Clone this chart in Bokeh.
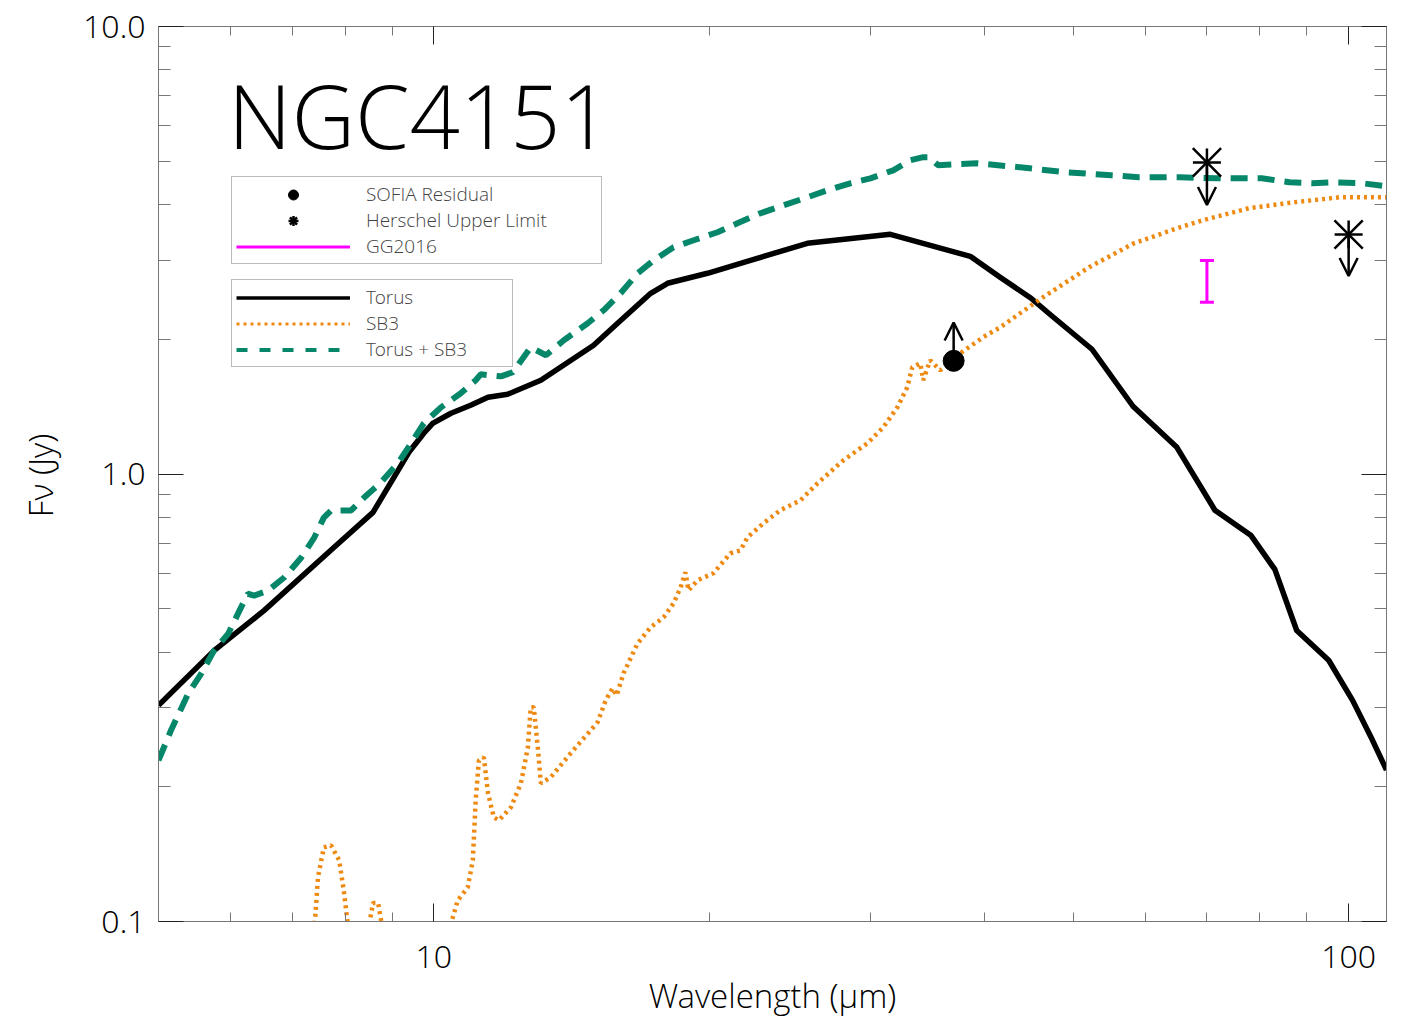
from bokeh.plotting import figure
from bokeh.models import (ColumnDataSource, FixedTicker, LogAxis, Legend, LegendItem, Label,
                          Arrow, OpenHead, PrintfTickFormatter, Range1d)
from bokeh.embed import file_html
from bokeh.resources import INLINE

# ---------------- data ----------------
torus_wave = [5.0, 5.75, 6.52, 7.78, 8.58, 9.39, 9.75, 9.97, 10.44, 10.97,
              11.46, 12.04, 13.09, 14.95, 15.88, 17.26, 18.01, 19.91, 22.19, 25.60,
              31.55, 38.58, 41.59, 44.96, 47.28, 52.41, 58.11, 64.90, 71.42, 78.16,
              83.05, 87.75, 95.1, 101.0, 106.2, 110.0]
torus_flux = [0.304, 0.403, 0.495, 0.686, 0.821, 1.118, 1.233, 1.298, 1.367, 1.424,
              1.484, 1.507, 1.620, 1.940, 2.172, 2.534, 2.668, 2.809, 3.002, 3.278,
              3.432, 3.065, 2.752, 2.470, 2.263, 1.900, 1.417, 1.147, 0.830, 0.730,
              0.612, 0.447, 0.3835, 0.312, 0.254, 0.218]

sb3_wave = [7.16, 7.40, 7.47, 7.58, 7.72, 7.88, 7.97, 8.07, 8.26, 8.47,
            8.58, 8.69, 8.80, 9.56, 10.38, 10.62, 10.89, 11.03, 11.11, 11.20,
            11.34, 11.46, 11.63, 11.78, 12.14, 12.45, 12.67, 12.76, 12.86, 12.99,
            13.09, 13.42, 14.11, 15.10, 15.41, 15.68, 15.84, 16.12, 16.70, 17.26,
            17.83, 18.28, 18.61, 18.84, 18.98, 19.42, 20.21, 21.09, 21.63, 22.02,
            22.92, 23.92, 25.16, 26.26, 28.03, 29.78, 31.00, 32.11, 32.92, 33.34,
            34.02, 34.27, 34.88, 35.77, 37.61, 39.85, 41.59, 43.74, 46.34, 52.02,
            58.25, 65.39, 69.27, 77.77, 87.10, 97.77, 110.0]
sb3_flux = [0.06, 0.095, 0.1255, 0.1464, 0.148, 0.137, 0.1174, 0.095, 0.07, 0.095,
            0.110, 0.110, 0.095, 0.06, 0.095, 0.1115, 0.1192, 0.137, 0.1866, 0.229,
            0.2327, 0.1934, 0.1709, 0.1683, 0.180, 0.2037, 0.245, 0.301, 0.301, 0.245,
            0.2037, 0.210, 0.2376, 0.2787, 0.312, 0.332, 0.320, 0.3586, 0.4184, 0.4545,
            0.4784, 0.514, 0.558, 0.603, 0.5495, 0.5787, 0.600, 0.665, 0.675, 0.722,
            0.776, 0.830, 0.873, 0.953, 1.073, 1.171, 1.272, 1.409, 1.562, 1.731,
            1.767, 1.620, 1.795, 1.705, 1.861, 2.021, 2.127, 2.287, 2.483, 2.897,
            3.278, 3.558, 3.690, 3.925, 4.048, 4.153, 4.153]

total_wave = [5.0, 5.16, 5.39, 5.57, 5.75, 5.96, 6.13, 6.26, 6.36, 6.59,
              6.86, 7.16, 7.40, 7.58, 7.72, 8.12, 8.39, 8.75, 9.13, 9.44,
              9.75, 10.18, 10.70, 11.11, 11.25, 11.84, 12.20, 12.76, 13.26, 13.87,
              14.73, 15.33, 16.00, 16.70, 17.39, 18.28, 19.23, 20.42, 21.47, 22.75,
              24.11, 25.60, 26.92, 28.52, 30.00, 31.78, 33.17, 34.19, 34.80, 35.59,
              37.24, 39.26, 43.74, 49.11, 54.99, 58.98, 65.39, 71.77, 80.35, 86.21,
              91.34, 96.78, 103.6, 110.0]
total_flux = [0.229, 0.2675, 0.3235, 0.3585, 0.403, 0.440, 0.495, 0.540, 0.535, 0.549,
              0.587, 0.650, 0.721, 0.799, 0.829, 0.829, 0.886, 0.957, 1.055, 1.170,
              1.298, 1.409, 1.515, 1.620, 1.670, 1.653, 1.688, 1.919, 1.842, 1.990,
              2.172, 2.322, 2.534, 2.809, 3.002, 3.211, 3.329, 3.469, 3.633, 3.825,
              3.985, 4.153, 4.305, 4.463, 4.579, 4.771, 5.023, 5.102, 5.102, 4.896,
              4.920, 4.946, 4.846, 4.723, 4.651, 4.603, 4.603, 4.579, 4.579, 4.486,
              4.463, 4.486, 4.463, 4.395]

sofia_wave = [37.0]
sofia_flux = [1.79]
sofia_arrow_tip = [2.18]

herschel_wave = [70.0, 100.0]
herschel_flux = [4.97, 3.43]
herschel_arrow_tip = [3.99, 2.77]

gg_wave = [70.0]
gg_low = [2.42]
gg_high = [3.00]

x_major = [10, 100]
x_minor = [5, 6, 7, 8, 9, 20, 30, 40, 50, 60, 70, 80, 90]
y_major = [0.1, 1, 10]
y_minor = [0.2, 0.3, 0.4, 0.5, 0.6, 0.7, 0.8, 0.9, 2, 3, 4, 5, 6, 7, 8, 9]

FONT = "Open Sans"
THIN = "Open Sans Light, Open Sans"
GREEN = "#06876A"
ORANGE = "#EE8A12"
MAGENTA = "#FF00FF"
AXIS_GREY = "#777777"

p = figure(x_axis_type="log", y_axis_type="log",
           x_range=Range1d(5, 110), y_range=Range1d(0.1, 10),
           frame_width=1228, frame_height=895,
           min_border_left=158, min_border_right=31, min_border_top=26, min_border_bottom=107,
           output_backend="svg", toolbar_location=None)
p.background_fill_color = "white"
p.border_fill_color = "white"
p.outline_line_color = AXIS_GREY
p.grid.visible = False
# a range far away from the data, used only to give legend keys their own (unseen) lines
p.extra_y_ranges = {"key": Range1d(1000, 2000)}

xt = FixedTicker(ticks=x_major, minor_ticks=x_minor)
yt = FixedTicker(ticks=y_major, minor_ticks=y_minor)


def style_axis(ax, major_in, minor_in, show_labels=True):
    ax.axis_line_color = AXIS_GREY
    ax.major_tick_line_color = "#222222"
    ax.minor_tick_line_color = AXIS_GREY
    ax.major_tick_in = major_in
    ax.major_tick_out = 0
    ax.minor_tick_in = minor_in
    ax.minor_tick_out = 0
    ax.major_label_text_font = THIN
    ax.major_label_text_font_size = "32px"
    ax.major_label_text_color = "black"
    ax.axis_label_text_font = THIN
    ax.axis_label_text_font_size = "33px"
    ax.axis_label_text_font_style = "normal"
    ax.axis_label_text_color = "black"
    if not show_labels:
        ax.major_label_text_font_size = "1px"
        ax.major_label_text_color = None
        ax.major_label_standoff = 0


xa = p.xaxis[0]
xa.ticker = xt
xa.formatter = PrintfTickFormatter(format="%d")
style_axis(xa, 18, 9)
xa.major_label_standoff = 24
xa.axis_label = "Wavelength (\u03bcm)"
xa.axis_label_standoff = 2

ya = p.yaxis[0]
ya.ticker = yt
ya.formatter = PrintfTickFormatter(format="%.1f")
style_axis(ya, 25, 12)
ya.major_label_standoff = 13
ya.axis_label = "F\u03bd (Jy)"
ya.axis_label_standoff = 17

top = LogAxis(ticker=xt)
style_axis(top, 18, 9, show_labels=False)
p.add_layout(top, "above")

right = LogAxis(ticker=yt)
style_axis(right, 25, 12, show_labels=False)
p.add_layout(right, "right")

# ---------------- curves ----------------
r_torus = p.line(torus_wave, torus_flux, line_color="black", line_width=5.5, line_join="round")
r_sb3 = p.line(sb3_wave, sb3_flux, line_color=ORANGE, line_width=4.5, line_dash="3 4")
r_total = p.line(total_wave, total_flux, line_color=GREEN, line_width=6, line_dash="17 10")

# legend keys: same series on the far-away range (so unseen), with the thinner key strokes
k_torus = p.line(torus_wave, torus_flux, y_range_name="key", line_color="black", line_width=3.5)
k_sb3 = p.line(sb3_wave, sb3_flux, y_range_name="key", line_color=ORANGE, line_width=3,
               line_dash="3 4")
k_total = p.line(total_wave, total_flux, y_range_name="key", line_color=GREEN, line_width=4,
                 line_dash="11 12")

# ---------------- points ----------------
sofia_src = ColumnDataSource(dict(x=sofia_wave, y=sofia_flux, tip=sofia_arrow_tip))
p.add_layout(Arrow(end=OpenHead(size=18, line_width=2.5, line_color="black"),
                   x_start="x", y_start="y", x_end="x", y_end="tip",
                   source=sofia_src, line_width=2.5, line_color="black"))
r_sofia = p.scatter("x", "y", source=sofia_src, marker="circle", size=21,
                    fill_color="black", line_color="black")

her_src = ColumnDataSource(dict(x=herschel_wave, y=herschel_flux, tip=herschel_arrow_tip))
p.add_layout(Arrow(end=OpenHead(size=18, line_width=2.5, line_color="black"),
                   x_start="x", y_start="y", x_end="x", y_end="tip",
                   source=her_src, line_width=2.5, line_color="black"))
r_her1 = p.scatter("x", "y", source=her_src, marker="cross", size=28,
                   line_color="black", line_width=2.5)
r_her2 = p.scatter("x", "y", source=her_src, marker="x", size=40,
                   line_color="black", line_width=2.5)

gg_src = ColumnDataSource(dict(x=gg_wave, lo=gg_low, hi=gg_high))
r_gg = p.segment(x0="x", y0="lo", x1="x", y1="hi", source=gg_src,
                 line_color=MAGENTA, line_width=3)
p.scatter("x", "lo", source=gg_src, marker="dash", size=14, line_color=MAGENTA, line_width=3)
p.scatter("x", "hi", source=gg_src, marker="dash", size=14, line_color=MAGENTA, line_width=3)

# ---------------- title ----------------
p.add_layout(Label(x=5.955, y=6.33, text="NGC4151", text_font=THIN,
                   text_font_size="88px", text_color="black", text_baseline="alphabetic"))


# ---------------- legends ----------------
def make_legend(items, loc, label_width):
    leg = Legend(items=items, location=loc, orientation="vertical",
                 glyph_width=114, glyph_height=25, label_height=25, label_width=label_width,
                 label_standoff=16, padding=4, spacing=0, margin=0,
                 border_line_color=AXIS_GREY, border_line_width=1,
                 background_fill_color="white", background_fill_alpha=1.0,
                 label_text_font=THIN, label_text_font_size="19px", label_text_color="#444444")
    return leg


leg1 = make_legend([LegendItem(label="SOFIA Residual", renderers=[r_sofia]),
                    LegendItem(label="Herschel Upper Limit", renderers=[r_her1, r_her2]),
                    LegendItem(label="GG2016", renderers=[r_gg])], (73, 657), 231)
leg2 = make_legend([LegendItem(label="Torus", renderers=[k_torus]),
                    LegendItem(label="SB3", renderers=[k_sb3]),
                    LegendItem(label="Torus + SB3", renderers=[k_total])], (73, 554), 142)
p.add_layout(leg1)
p.add_layout(leg2)

open("out.html", "w").write(file_html(p, INLINE))
